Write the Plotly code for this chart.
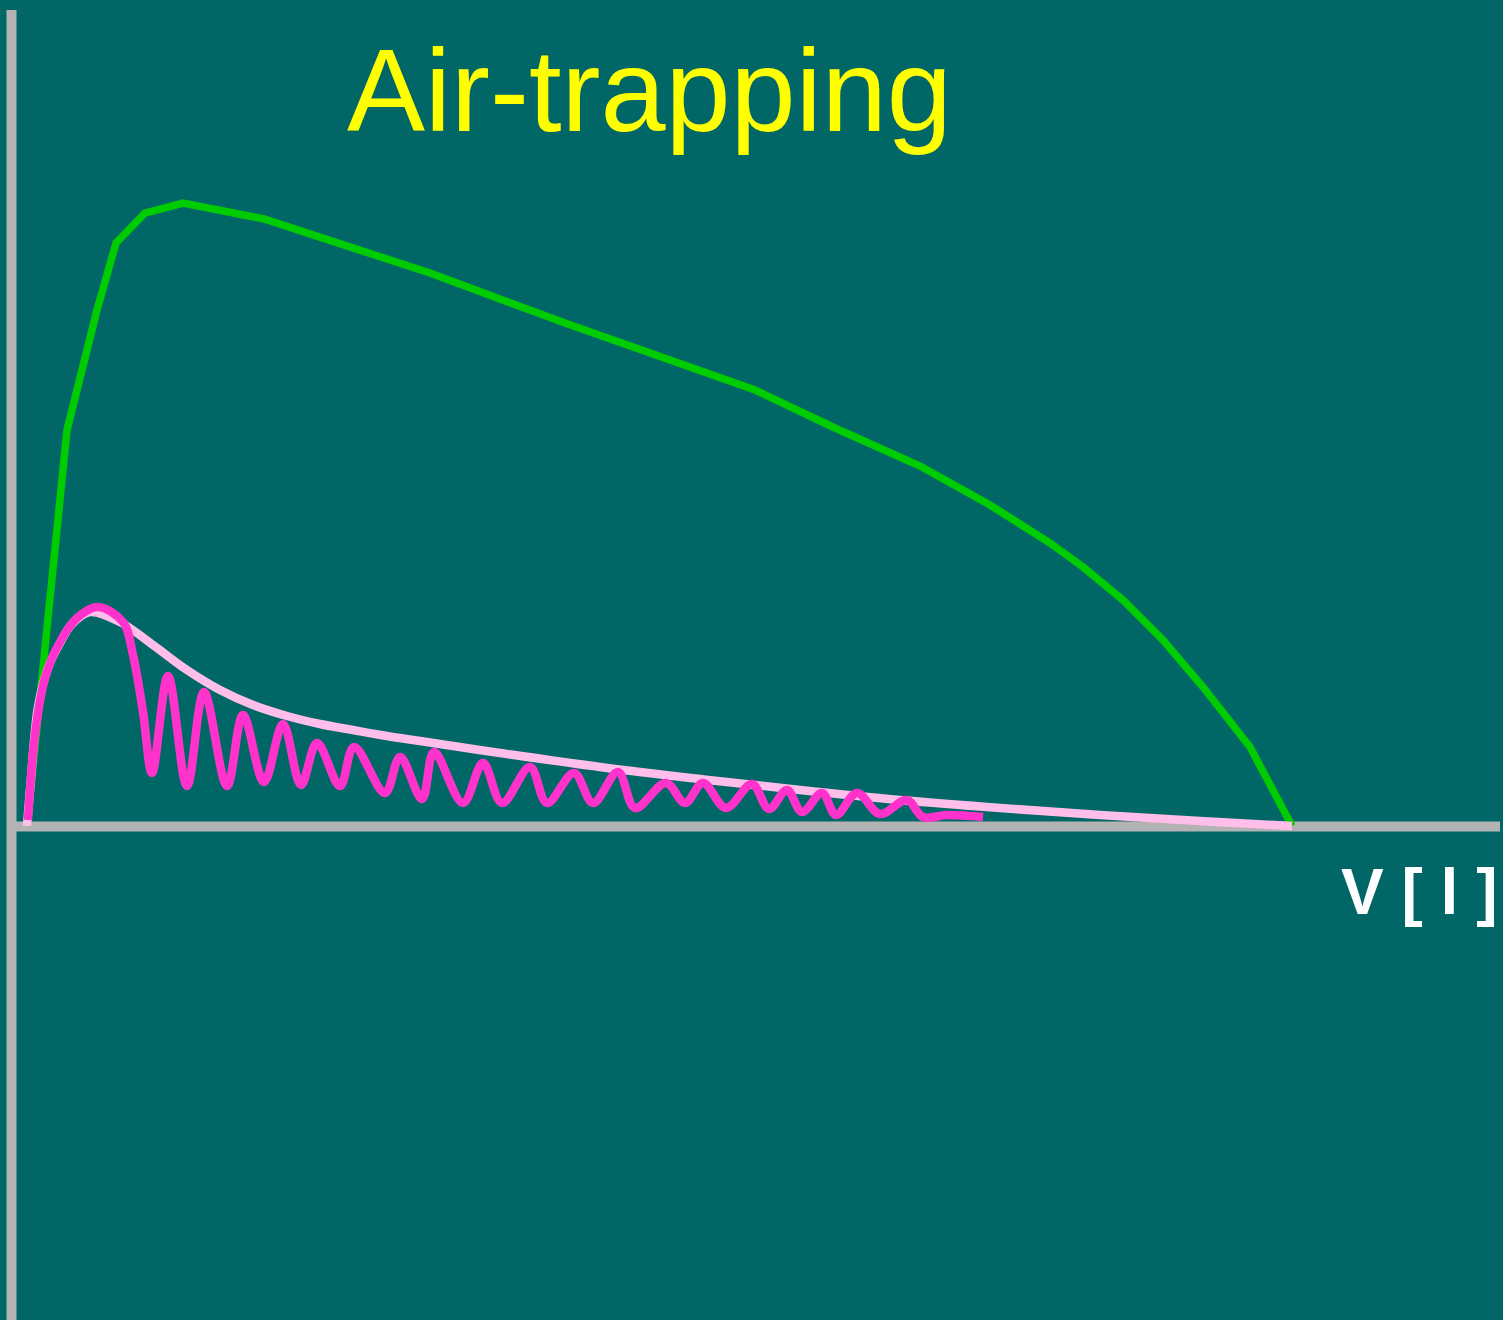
import plotly.graph_objects as go

# Flow-volume loops: volume V [l] on x, expiratory flow on y (arbitrary units)

# Normal expiratory flow-volume curve
normal_volume = [0.00, 0.40, 0.70, 0.89, 1.18, 1.56, 2.37, 3.03, 4.03, 5.38, 7.28,
                 8.08, 8.93, 9.63, 10.23, 10.56, 10.96, 11.36, 11.76, 12.23, 12.65]
normal_flow = [0.00, 3.96, 5.16, 5.83, 6.13, 6.23, 6.07, 5.86, 5.53, 5.03, 4.36,
               3.98, 3.60, 3.21, 2.83, 2.59, 2.26, 1.86, 1.39, 0.79, 0.00]

# Obstructed curve (air-trapping), smooth envelope
envelope_volume = [0.00, 0.03, 0.11, 0.21, 0.33, 0.45, 0.63, 0.93, 1.26, 1.60, 1.93,
                   2.26, 2.60, 2.93, 3.26, 3.60, 3.93, 4.73, 5.73, 6.73, 7.73,
                   8.73, 9.73, 10.73, 11.73, 12.65]
envelope_flow = [0.00, 0.36, 1.19, 1.58, 1.83, 2.02, 2.14, 2.04, 1.81, 1.56, 1.36,
                 1.21, 1.10, 1.02, 0.96, 0.90, 0.85, 0.73, 0.59, 0.47, 0.36,
                 0.26, 0.18, 0.11, 0.05, 0.00]

# Oscillating flow trace during the same expiration
osc_volume = [0.01, 0.08, 0.18, 0.33, 0.50, 0.71, 0.96, 1.06, 1.16, 1.25, 1.41,
              1.60, 1.77, 2.00, 2.16, 2.37, 2.56, 2.74, 2.90, 3.13, 3.27, 3.58,
              3.73, 3.95, 4.07, 4.36, 4.56, 4.75, 5.03, 5.20, 5.47, 5.66, 5.91,
              6.08, 6.39, 6.58, 6.76, 6.99, 7.25, 7.42, 7.60, 7.75, 7.95, 8.09,
              8.30, 8.53, 8.80, 8.96, 9.20, 9.56]
osc_flow = [0.06, 0.91, 1.48, 1.84, 2.08, 2.19, 2.04, 1.71, 1.14, 0.53, 1.50,
            0.40, 1.34, 0.40, 1.11, 0.44, 1.02, 0.41, 0.83, 0.40, 0.79, 0.33,
            0.69, 0.27, 0.74, 0.23, 0.63, 0.23, 0.59, 0.23, 0.53, 0.23, 0.54,
            0.18, 0.43, 0.23, 0.43, 0.18, 0.42, 0.17, 0.36, 0.14, 0.33, 0.11,
            0.33, 0.12, 0.26, 0.09, 0.11, 0.09]

title_text = "Air-trapping"
x_label = "V [ l ]"

BG = "#006666"
AXIS = "#b3b3b3"

fig = go.Figure()

fig.add_trace(go.Scatter(x=normal_volume, y=normal_flow, mode="lines",
                         line=dict(color="#00cc00", width=7.5, shape="linear"),
                         hoverinfo="skip"))
fig.add_trace(go.Scatter(x=envelope_volume, y=envelope_flow, mode="lines",
                         line=dict(color="#ffbfea", width=8.5, shape="spline", smoothing=1.0),
                         hoverinfo="skip"))
fig.add_trace(go.Scatter(x=osc_volume, y=osc_flow, mode="lines",
                         line=dict(color="#ff33cc", width=8.5, shape="spline", smoothing=1.0),
                         hoverinfo="skip"))

# Axis lines
fig.add_shape(type="line", x0=-0.155, x1=-0.155, y0=8.16, y1=-4.94,
              line=dict(color=AXIS, width=10), layer="below")
fig.add_shape(type="line", x0=-0.11, x1=14.73, y0=-0.005, y1=-0.005,
              line=dict(color=AXIS, width=10), layer="below")

fig.add_annotation(x=6.22, y=7.36, text=title_text, showarrow=False,
                   xanchor="center", yanchor="middle",
                   font=dict(family="Liberation Sans, Arial, sans-serif", size=117, color="#ffff00"))
fig.add_annotation(x=14.72, y=-0.66, text=f"<b>{x_label}</b>", showarrow=False,
                   xanchor="right", yanchor="middle",
                   font=dict(family="Liberation Sans, Arial, sans-serif", size=64, color="#ffffff"))

fig.update_layout(
    width=1503, height=1320,
    margin=dict(l=0, r=0, t=0, b=0),
    paper_bgcolor=BG, plot_bgcolor=BG,
    showlegend=False,
    xaxis=dict(range=[-0.27, 14.76], visible=False, fixedrange=True),
    yaxis=dict(range=[-4.94, 8.26], visible=False, fixedrange=True),
)

fig.write_html("out.html")
